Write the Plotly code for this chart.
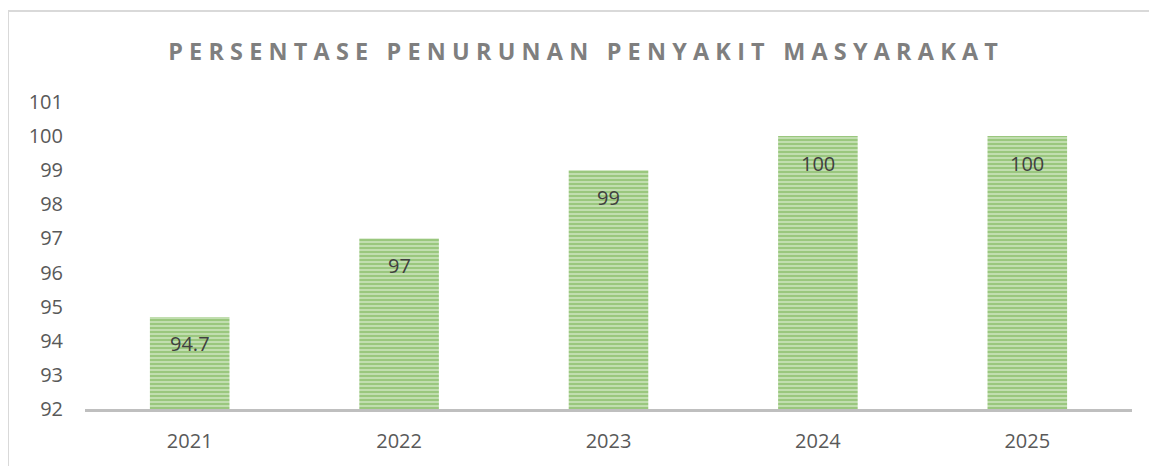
import plotly.graph_objects as go

years = ["2021", "2022", "2023", "2024", "2025"]
values = [94.7, 97, 99, 100, 100]
label_texts = ["94.7", "97", "99", "100", "100"]
y_ticks = [92, 93, 94, 95, 96, 97, 98, 99, 100, 101]
title_text = "PERSENTASE PENURUNAN PENYAKIT MASYARAKAT"

FONT = "Open Sans"
# page body has an 8px margin; figure coordinates are offset by that
W, H = 1149, 458
L, R, T, B = 77, 25, 94, 54
PW = W - L - R
PH = H - T - B

fig = go.Figure()
fig.add_trace(go.Bar(
    x=years, y=values,
    marker=dict(
        color="#A9D18E",
        line=dict(width=0),
        pattern=dict(shape="-", fgcolor="#70AD47", bgcolor="#C5E0B4", size=4, solidity=0.55),
    ),
    width=0.38,
    hoverinfo="skip",
))

for i, (v, t) in enumerate(zip(values, label_texts)):
    fig.add_annotation(x=i, y=v, text=t, showarrow=False, yshift=-27,
                       font=dict(family=FONT, size=20, color="#404040"))

sep = "\u2009\u200a"
words = title_text.split(" ")
spaced_title = (sep + " " + sep).join(sep.join(w) for w in words)

fig.update_layout(
    width=W, height=H,
    paper_bgcolor="white", plot_bgcolor="white",
    margin=dict(l=L, r=R, t=T, b=B),
    showlegend=False,
    title=dict(text="<b>" + spaced_title + "</b>", x=575 / W, xanchor="center",
               y=1 - 44 / H, yanchor="middle",
               font=dict(family=FONT, size=23.4, color="#7F7F7F")),
    xaxis=dict(type="category", range=[-0.5, len(years) - 0.5], showgrid=False,
               showline=True, linecolor="#BFBFBF", linewidth=3,
               ticks="", tickfont=dict(family=FONT, size=20, color="#595959"),
               ticklabelstandoff=12),
    yaxis=dict(range=[92, 101], tickvals=y_ticks, showgrid=False, zeroline=False,
               showline=False, ticks="", tickfont=dict(family=FONT, size=20, color="#595959"),
               ticklabelstandoff=21),
    shapes=[dict(type="rect", xref="paper", yref="paper",
                 x0=(0 - L) / PW, x1=1.5, y0=-2, y1=(H - B - 2) / PH,
                 line=dict(color="#D9D9D9", width=2), fillcolor="rgba(0,0,0,0)", layer="below")],
)

fig.write_html("out.html")
